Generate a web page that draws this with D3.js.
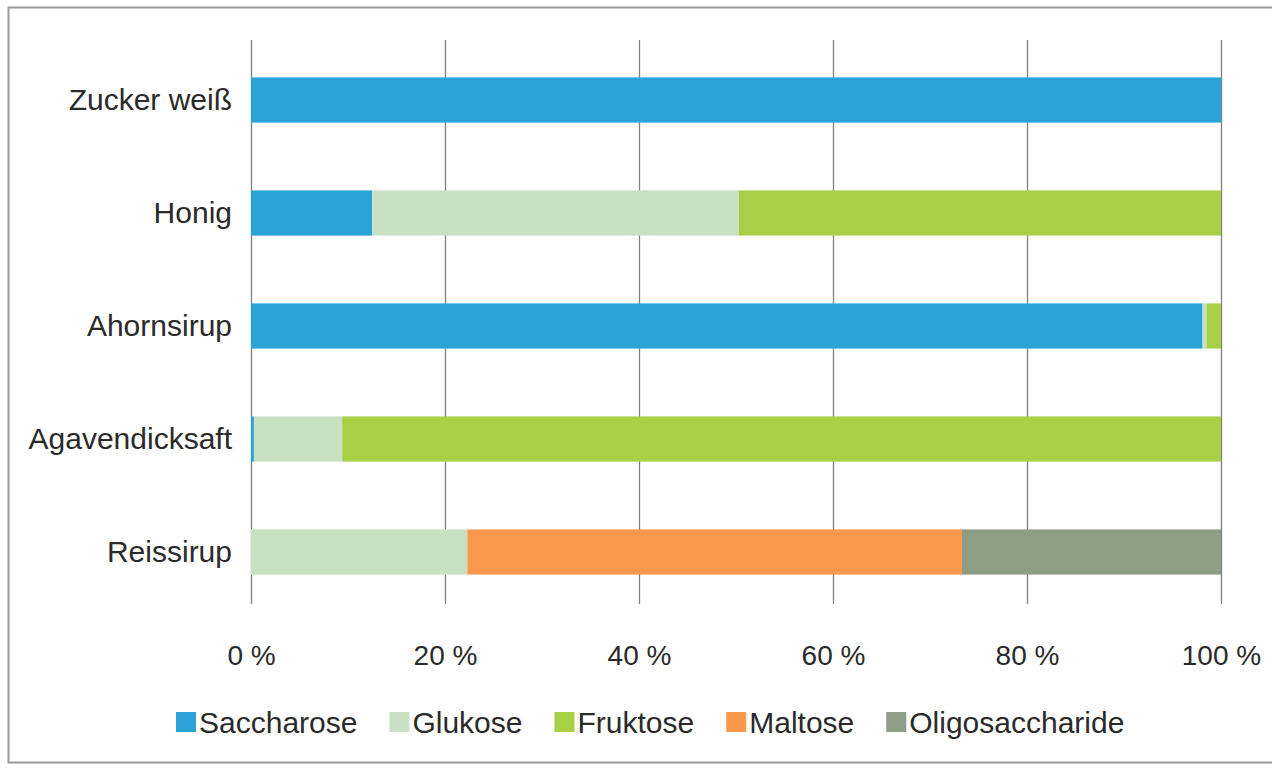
<!DOCTYPE html>
<html>
<head>
<meta charset="utf-8">
<script src="https://cdn.jsdelivr.net/npm/d3@7"></script>
<style>
  body { margin: 0; background: #fff; }
  svg { display: block; font-family: 'Liberation Sans', Arial, sans-serif; }
</style>
</head>
<body>
<svg width="1272" height="769"></svg>
<script>
const categories = ['Zucker weiß', 'Honig', 'Ahornsirup', 'Agavendicksaft', 'Reissirup']
const seriesNames = ['Saccharose', 'Glukose', 'Fruktose', 'Maltose', 'Oligosaccharide']
const saccharose = [100, 12.5, 98.1, 0.3, 0]
const glukose = [0, 37.8, 0.4, 9.1, 22.3]
const fruktose = [0, 49.7, 1.5, 90.6, 0]
const maltose = [0, 0, 0, 0, 51]
const oligosaccharide = [0, 0, 0, 0, 26.7]
const xTicks = [0, 20, 40, 60, 80, 100]
const colors = ['#2ba3d9', '#c8e1c3', '#a9cf46', '#fa994b', '#8e9d86']

const svg = d3.select('svg')
const plotLeft = 251, plotRight = 1221, gridTop = 40, gridBottom = 604
const bandTop = 43.5, bandBottom = 608.5

// outer frame of the scanned chart
svg.append('rect')
    .attr('x', 8.5).attr('y', 7.5)
    .attr('width', 1300).attr('height', 755)
    .attr('fill', 'none')
    .attr('stroke', '#9a9a9a')
    .attr('stroke-width', 2)

const table = categories.map((c, i) => ({
    name: c,
    Saccharose: saccharose[i],
    Glukose: glukose[i],
    Fruktose: fruktose[i],
    Maltose: maltose[i],
    Oligosaccharide: oligosaccharide[i],
}))
const stacked = d3.stack().keys(seriesNames)(table)

const xScale = d3.scaleLinear().domain([0, 100]).range([plotLeft, plotRight])
const yScale = d3.scaleBand().domain(categories).range([bandTop, bandBottom]).paddingInner(0.6).paddingOuter(0.3)
const colorScale = d3.scaleOrdinal().domain(seriesNames).range(colors)

// gridlines
const xAxes = d3.axisBottom(xScale)
    .tickValues(xTicks)
    .tickFormat((d) => `${d} %`)
    .tickSizeInner(-(gridBottom - gridTop))
    .tickSizeOuter(0)
    .tickPadding(41)

const xAxesContainer = svg.append('g')
    .attr('class', 'x-axes-container')
    .attr('transform', `translate(0, ${gridBottom})`)
    .call(xAxes)
xAxesContainer.select('.domain').remove()
xAxesContainer.selectAll('.tick line').attr('stroke', '#808080').attr('stroke-width', 1.3)
xAxesContainer.selectAll('.tick text')
    .attr('fill', '#2a2a2a')
    .style('font-size', '28px')
    .style('font-family', "'Liberation Sans', Arial, sans-serif")

// bars
const dataContainer = svg.append('g').attr('class', 'data-container')
dataContainer.selectAll('g.series')
    .data(stacked)
    .enter()
    .append('g')
    .attr('class', 'series')
    .attr('fill', (d) => colorScale(d.key))
    .selectAll('rect')
    .data((d) => d)
    .enter()
    .append('rect')
    .attr('x', (d) => xScale(d[0]))
    .attr('width', (d) => xScale(d[1]) - xScale(d[0]))
    .attr('y', (d) => yScale(d.data.name))
    .attr('height', yScale.bandwidth())

// category labels
const yAxes = d3.axisLeft(yScale).tickSize(0).tickPadding(19)
const yAxesContainer = svg.append('g')
    .attr('class', 'y-axes-container')
    .attr('transform', `translate(${plotLeft}, 0)`)
    .call(yAxes)
yAxesContainer.select('.domain').remove()
yAxesContainer.selectAll('.tick text')
    .attr('fill', '#2a2a2a')
    .style('font-size', '30px')
    .style('font-family', "'Liberation Sans', Arial, sans-serif")

// legend
const legendContainer = svg.append('g').attr('class', 'legend-container')
let lx = 176
seriesNames.forEach((name) => {
    const item = legendContainer.append('g').attr('transform', `translate(${lx}, 722)`)
    item.append('rect')
        .attr('x', 0).attr('y', -10)
        .attr('width', 20).attr('height', 20)
        .attr('fill', colorScale(name))
    const label = item.append('text')
        .attr('x', 23)
        .attr('dy', '0.35em')
        .attr('fill', '#2a2a2a')
        .style('font-size', '30px')
        .text(name)
    lx += 23 + label.node().getComputedTextLength() + 32
})
</script>
</body>
</html>
